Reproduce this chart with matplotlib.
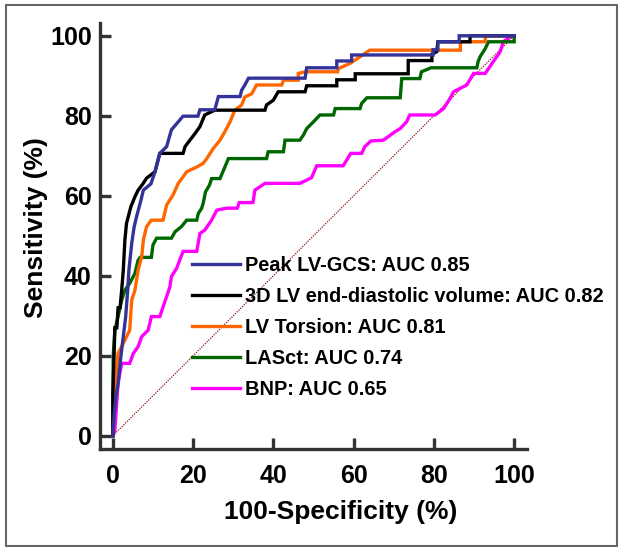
import matplotlib
matplotlib.use("Agg")
import matplotlib.pyplot as plt
from matplotlib.patches import Rectangle
from matplotlib.lines import Line2D

plt.rcParams['font.family'] = ['Liberation Sans', 'DejaVu Sans']
plt.rcParams['font.weight'] = 'bold'

# ROC curves (x = 100-specificity, y = sensitivity)
gcs_x = [0, 0.3, 0.8, 1.3, 1.6, 2, 2.6, 3.2, 3.7, 4, 4.7, 5.3, 5.9, 7, 7.6, 9.5, 10.5, 11.7,
         13.4, 14.6, 17.5, 21.2, 21.7, 25.4, 26.3, 31.7, 32.1, 32.9, 33.8, 47.9, 48.3, 55.8,
         55.8, 59.5, 59.5, 79.8, 79.8, 81, 81, 86.3, 86.3, 100]
gcs_y = [0, 5, 10, 13, 16, 19.8, 24.8, 29.8, 36.4, 41.4, 48.1, 52.2, 54.75, 58.9, 61.4, 63, 66,
         70.6, 72.3, 76.5, 79.9, 79.9, 81.5, 81.5, 84.8, 84.8, 86.4, 87.7, 89.4, 89.4, 92, 92,
         93.7, 93.7, 95.2, 95.2, 96.5, 96.5, 98.5, 98.5, 100, 100]

edv_x = [0, 0, 0.3, 0.5, 1, 1.3, 1.8, 2.2, 2.6, 3, 3.4, 4.5, 5.5, 6.3, 7.5, 8.4, 10.5, 11.7,
         17.5, 18, 19.2, 20.5, 21.7, 22.9, 25.4, 37.9, 38.3, 40, 41.2, 47.9, 48.3, 55.8, 55.8,
         60.4, 60.4, 73.6, 73.6, 79.5, 79.5, 80.7, 81, 89, 89, 100]
edv_y = [0, 10, 20, 27, 27, 32, 32, 36.4, 41.4, 48.9, 53.1, 57.3, 59.75, 61.4, 63, 64.4, 66,
         70.6, 70.6, 72.3, 73.9, 75.6, 77.3, 80.2, 81.4, 81.4, 82.7, 83.9, 86, 86, 87.5, 87.5,
         89, 89, 90.5, 90.5, 93.8, 93.8, 95.4, 96, 98.5, 98.5, 100, 100]

tor_x = [0, 0.5, 0.9, 1.3, 2.6, 4.2, 4.7, 5.5, 6.3, 7.2, 7.6, 8.4, 9.6, 12.5, 13.4, 15, 16.3,
         18.4, 20.9, 22.5, 23.4, 25, 26.7, 27.9, 29.2, 30.4, 32.1, 32.9, 34.6, 35.8, 42.1, 42.5,
         46.2, 46.2, 48, 56, 56.2, 59.1, 61.6, 64, 86.6, 86.6, 92.8, 92.8, 100]
tor_y = [0, 10, 16.5, 20.6, 23.1, 26.4, 33.9, 36.4, 41.4, 44.8, 48.9, 52.3, 53.9, 53.9, 57.7,
         60.2, 63.1, 66, 67.2, 68.1, 69.3, 71.8, 73.9, 76, 78.5, 81.4, 82.7, 84.7, 85.5, 87.7,
         87.7, 88.9, 88.9, 90.6, 91, 91, 91.8, 93.1, 94.75, 96.4, 96.4, 98.5, 98.5, 100, 100]

lasct_x = [0, 0, 0.1, 0.5, 1.3, 2.2, 3, 4.2, 5.5, 6.3, 6.8, 9.6, 10, 10.9, 14.6, 15.5, 17.1,
           18.4, 20.9, 21.3, 22.1, 22.5, 23.1, 24.1, 24.6, 26.7, 27.5, 28.8, 38.3, 38.7, 42.5,
           42.9, 46.6, 47.5, 48.3, 50, 51.6, 55, 55.4, 61.6, 62, 63.3, 71.6, 72, 76.5, 76.9,
           79.3, 90.7, 91, 91.5, 92.8, 93.6, 100, 100]
lasct_y = [0, 8, 20, 26.4, 29.8, 33.9, 36.4, 38.1, 40.6, 43.9, 44.6, 44.6, 47.7, 49.4, 49.4,
           51, 52.3, 53.9, 53.9, 55.6, 56.8, 58.1, 61, 62.7, 64.3, 64.3, 66.2, 69.3, 69.3, 71,
           71, 73.9, 73.9, 75.2, 76.8, 78.5, 80.2, 80.2, 81.8, 81.8, 83.1, 84.5, 84.5, 89.3,
           89.3, 91, 92, 92, 93.5, 94.75, 96.8, 98.5, 98.5, 99.5]

bnp_x = [0, 0.5, 0.9, 1.3, 2.2, 4.2, 5.1, 6.3, 7.2, 8.8, 9.6, 11.7, 12.5, 13.4, 14.2, 14.6,
         15.9, 17.5, 20.9, 21.7, 22.9, 24.6, 25.9, 28.3, 31, 31.5, 34.9, 35.4, 37.9, 46.6,
         49.5, 50.8, 57.4, 59.3, 62, 62.8, 64.3, 67.4, 70.3, 71.6, 73.2, 74, 80.3, 82.4, 84,
         84.9, 88.2, 89.9, 92.8, 94.5, 96.5, 97.3, 99.4, 100]
bnp_y = [0, 1.4, 7.3, 13.1, 18.1, 18.1, 20.6, 22.3, 24.8, 26.4, 29.8, 29.8, 32.2, 34.8, 37.2,
         39.8, 41.9, 46.1, 46.1, 50.6, 51.4, 53.9, 56.4, 56.9, 56.9, 58.3, 58.3, 61.4, 63.1,
         63.1, 64.5, 67.5, 67.5, 70.6, 70.6, 72.3, 73.7, 73.9, 76, 76.8, 78.5, 80.2, 80.2,
         81.8, 84.3, 86, 87.7, 90.6, 90.6, 93.1, 96, 98.5, 100, 100]

labels = ["Peak LV-GCS: AUC 0.85", "3D LV end-diastolic volume: AUC 0.82",
          "LV Torsion: AUC 0.81", "LASct: AUC 0.74", "BNP: AUC 0.65"]
colors = ["#333399", "#000000", "#ff6600", "#006600", "#ff00ff"]
ticks = [0, 20, 40, 60, 80, 100]

fig = plt.figure(figsize=(6.2, 5.47), dpi=100)
ax = fig.add_axes([0.1613, 0.1792, 0.6887, 0.7788])

ax.plot([0, 100], [0, 100], linestyle=(0, (1, 1)), color="#8b1a1a", lw=0.9, zorder=1)

curves = [(gcs_x, gcs_y), (edv_x, edv_y), (tor_x, tor_y), (lasct_x, lasct_y), (bnp_x, bnp_y)]
for i in reversed(range(len(curves))):
    cx, cy = curves[i]
    ax.plot(cx, cy, color=colors[i], lw=2.4, solid_joinstyle="miter", zorder=2 + (5 - i))

ax.set_xlim(-3.2, 103.2)
ax.set_ylim(-3.3, 103.2)
ax.set_xticks(ticks)
ax.set_yticks(ticks)
for side in ["top", "right"]:
    ax.spines[side].set_visible(False)
for side in ["left", "bottom"]:
    ax.spines[side].set_color("#333333")
    ax.spines[side].set_linewidth(2.4)
ax.tick_params(direction="in", length=8, width=2.4, color="#333333", labelsize=18)
ax.tick_params(axis="x", pad=11)
ax.tick_params(axis="y", pad=6)

ax.set_xlabel("100-Specificity (%)", fontsize=19, fontweight="bold")
ax.set_ylabel("Sensitivity (%)", fontsize=19, fontweight="bold")
ax.xaxis.set_label_coords(0.564, -0.12)
ax.yaxis.set_label_coords(-0.122, 0.52)

handles = [Line2D([], [], color=c, lw=2.4) for c in colors]
ax.legend(handles, labels, loc="upper left", bbox_to_anchor=(0.2155, 0.453),
          frameon=False, fontsize=14.4, handlelength=2.4, handletextpad=0.25,
          labelspacing=0.6, borderpad=0, borderaxespad=0)

fig.patches.append(Rectangle((6 / 620, 1 / 547), 611 / 620, 541 / 547,
                             transform=fig.transFigure, fill=False,
                             edgecolor="#666666", lw=1.5))

fig.savefig("out.png", dpi=100)
